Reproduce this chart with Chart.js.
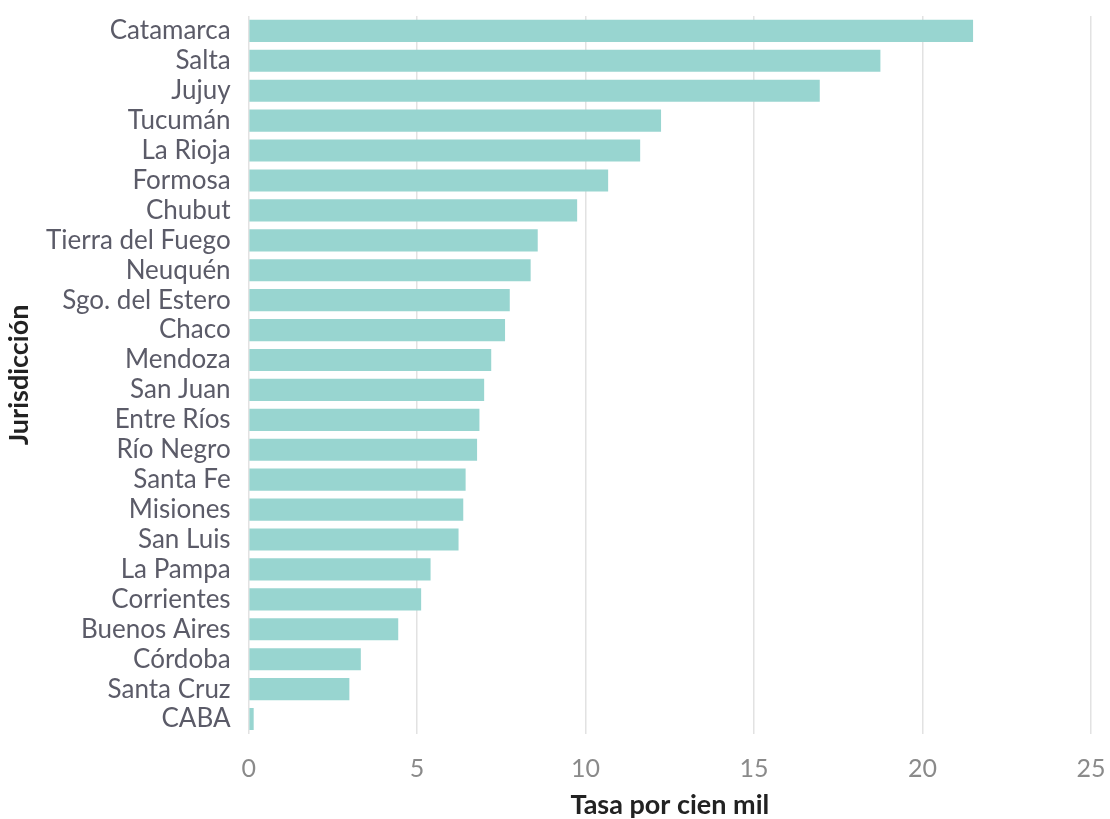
<!DOCTYPE html>
<html>
<head>
<meta charset="utf-8">
<script src="https://cdn.jsdelivr.net/npm/chart.js@4/dist/chart.umd.min.js"></script>
<style>
html,body{margin:0;padding:0;background:#fff;overflow:hidden;}
#wrap{width:1110px;height:819px;overflow:hidden;position:relative;}
#c{position:absolute;left:0;top:-6px;}
</style>
</head>
<body>
<div id="wrap"><canvas id="c" width="1110" height="825"></canvas></div>
<script>
const categories = ["Catamarca","Salta","Jujuy","Tucumán","La Rioja","Formosa","Chubut","Tierra del Fuego","Neuquén","Sgo. del Estero","Chaco","Mendoza","San Juan","Entre Ríos","Río Negro","Santa Fe","Misiones","San Luis","La Pampa","Corrientes","Buenos Aires","Córdoba","Santa Cruz","CABA"];
const tasa = [21.5,18.75,16.95,12.24,11.62,10.67,9.75,8.58,8.37,7.75,7.61,7.2,6.99,6.85,6.78,6.44,6.37,6.23,5.4,5.12,4.44,3.33,2.99,0.15];
const xTicks = [0,5,10,15,20,25];
const xTitle = "Tasa por cien mil";
const yTitle = "Jurisdicción";

new Chart(document.getElementById('c'), {
  type: 'bar',
  data: {
    labels: categories,
    datasets: [{
      data: tasa,
      backgroundColor: '#98d5d0',
      borderWidth: 0,
      categoryPercentage: 1,
      barPercentage: 0.74
    }]
  },
  options: {
    indexAxis: 'y',
    responsive: false,
    animation: false,
    devicePixelRatio: 1,
    layout: { padding: { top: 2, right: 19, bottom: 0, left: 6 } },
    plugins: { legend: { display: false }, tooltip: { enabled: false } },
    scales: {
      x: {
        min: 0, max: 25,
        afterBuildTicks: (axis) => { axis.ticks = xTicks.map(v => ({ value: v })); },
        afterFit: (axis) => { axis.paddingRight = 0; axis.paddingLeft = 0; },
        grid: { color: '#e2e2e2', lineWidth: 1.5, drawTicks: false },
        border: { display: false },
        ticks: { color: '#8a8a8a', font: { family: 'Lato', size: 25 }, padding: 20 },
        title: { display: true, text: xTitle, color: '#222', font: { family: 'Lato', size: 27, weight: 'bold', lineHeight: 1.0 }, padding: { top: -12, bottom: 0 } }
      },
      y: {
        afterFit: (axis) => { axis.width -= 9; },
        grid: { display: false, drawTicks: false },
        border: { display: false },
        ticks: { color: '#5b5b68', font: { family: 'Lato', size: 26, lineHeight: 0.3 }, padding: 18, autoSkip: false },
        title: { display: true, text: yTitle, color: '#222', font: { family: 'Lato', size: 27, weight: 'bold', lineHeight: 1.0 }, padding: { top: 0, bottom: 4 } }
      }
    }
  }
});
</script>
</body>
</html>
